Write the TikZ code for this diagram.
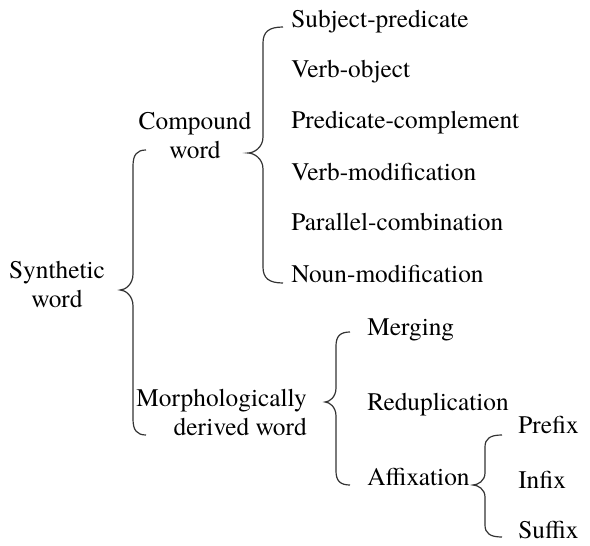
\documentclass[tikz,border=0pt]{standalone}
\usepackage{fontspec}
\setmainfont{TeX Gyre Termes}
\newcommand\mybrace[7]{%
  \draw[bracestyle] (#1,#4) .. controls ({#2+0.3*(#1-#2)},#4) and (#2,{#4+0.3*#7}) .. (#2,{#4+#7})
   -- (#2,{#5-#7}) .. controls (#2,{#5-0.35*#7}) and ({#3+0.4*(#2-#3)},#5) .. (#3,#5)
   .. controls ({#3+0.4*(#2-#3)},#5) and (#2,{#5+0.35*#7}) .. (#2,{#5+#7})
   -- (#2,{#6-#7}) .. controls (#2,{#6-0.3*#7}) and ({#2+0.3*(#1-#2)},#6) .. (#1,#6);}
\begin{document}
\begin{tikzpicture}[x=0.75pt,y=-0.75pt,
  lbl/.style={inner sep=0pt,font=\fontsize{19}{21.5}\selectfont},
  leaf/.style={lbl,anchor=base west},
  bracestyle/.style={draw=black!80,line width=0.9pt}]
\useasboundingbox (0,0) rectangle (590,546);
% labels
\node[lbl,align=center,anchor=base] (syn) at (57,307) {Synthetic\\word};
\node[lbl,align=center,anchor=base] (comp) at (195,158) {Compound\\word};
\node[lbl,align=right,anchor=base east] (morph) at (307,435) {Morphologically\\derived word};
\node[leaf] (sp) at (291,27) {Subject-predicate};
\node[leaf] (vo) at (291,77) {Verb-object};
\node[leaf] (pc) at (291,128) {Predicate-complement};
\node[leaf] (vm) at (291,180) {Verb-modification};
\node[leaf] (pcb) at (291,230) {Parallel-combination};
\node[leaf] (nm) at (291,282) {Noun-modification};
\node[leaf] (mer) at (367,335) {Merging};
\node[leaf] (red) at (367,410) {Reduplication};
\node[leaf] (aff) at (367,485) {Affixation};
\node[leaf] (pre) at (518,433) {Prefix};
\node[leaf] (inf) at (518,488) {Infix};
\node[leaf] (suf) at (518,538) {Suffix};
% braces
\mybrace{146}{133}{120}{150}{290}{435}{16}
\mybrace{283}{263}{248}{27}{153}{283}{16}
\mybrace{350}{336}{325}{332}{402}{485}{14}
\mybrace{502}{485}{473}{435}{485}{537}{12}
\end{tikzpicture}
\end{document}
